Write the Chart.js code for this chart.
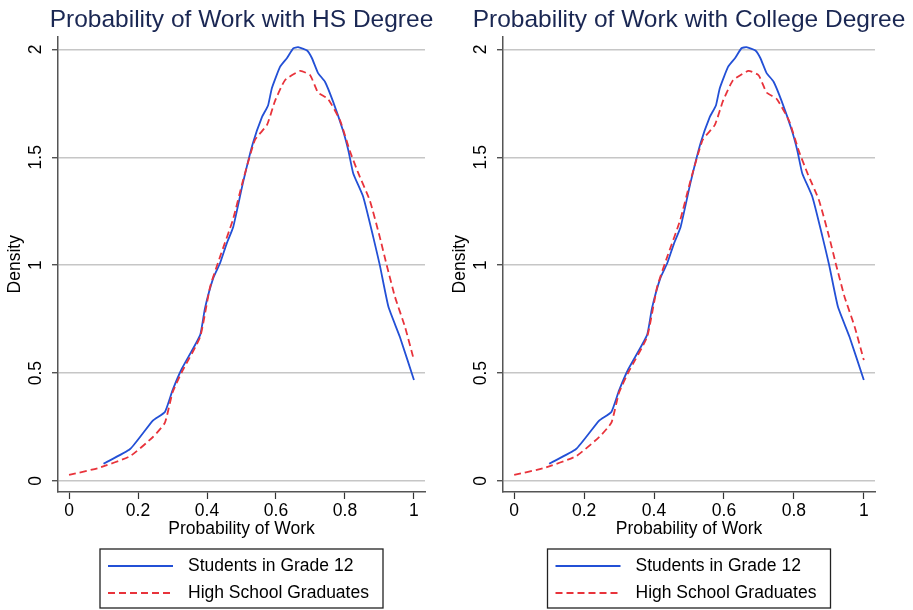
<!DOCTYPE html>
<html>
<head>
<meta charset="utf-8">
<script src="https://cdn.jsdelivr.net/npm/chart.js@4"></script>
<style>
  html, body { margin: 0; padding: 0; background: #fff; overflow: hidden; }
  body { width: 913px; height: 610px; position: relative; }
  canvas { position: absolute; top: 0; }
</style>
</head>
<body>
<canvas id="hsChart" width="483" height="610" style="left:0px"></canvas>
<canvas id="collegeChart" width="488" height="610" style="left:445px"></canvas>
<script>
var titles = ["Probability of Work with HS Degree", "Probability of Work with College Degree"]
var seriesNames = ["Students in Grade 12", "High School Graduates"]
var xTicks = [0, 0.2, 0.4, 0.6, 0.8, 1]
var yTicks = [0, 0.5, 1, 1.5, 2]

// Students in Grade 12 (solid blue)
var gradeX = [0.10, 0.177, 0.243, 0.278, 0.30, 0.327, 0.38, 0.394, 0.418, 0.438, 0.457, 0.476, 0.504, 0.533, 0.559, 0.577, 0.588, 0.612, 0.632, 0.65, 0.664, 0.69, 0.704, 0.722, 0.742, 0.765, 0.794, 0.81, 0.824, 0.853, 0.882, 0.901, 0.926, 0.959, 1.0]
var gradeY = [0.08, 0.148, 0.28, 0.32, 0.42, 0.52, 0.676, 0.80, 0.94, 1.01, 1.10, 1.177, 1.38, 1.565, 1.685, 1.74, 1.82, 1.92, 1.96, 2.005, 2.01, 1.995, 1.96, 1.89, 1.85, 1.76, 1.625, 1.53, 1.425, 1.316, 1.13, 1.0, 0.807, 0.668, 0.468]

// High School Graduates (dashed red)
var gradsX = [0, 0.085, 0.177, 0.244, 0.278, 0.30, 0.327, 0.38, 0.409, 0.438, 0.475, 0.504, 0.539, 0.574, 0.597, 0.626, 0.67, 0.699, 0.722, 0.751, 0.786, 0.814, 0.839, 0.872, 0.901, 0.921, 0.945, 0.974, 1.0]
var gradsY = [0.028, 0.06, 0.115, 0.205, 0.27, 0.41, 0.505, 0.667, 0.90, 1.04, 1.21, 1.39, 1.58, 1.65, 1.76, 1.857, 1.90, 1.88, 1.80, 1.77, 1.67, 1.53, 1.425, 1.30, 1.13, 1.0, 0.853, 0.714, 0.56]

var fontFamily = '"Liberation Sans", Arial, Helvetica, sans-serif'

function toPoints(xs, ys) {
    return xs.map(function (x, i) { return {x: x, y: ys[i]} })
}

// rotated y tick labels + boxed legend under the plot (stata look)
var stataExtras = {
    id: 'stataExtras',
    afterDraw: function (chart) {
        var ctx = chart.ctx, area = chart.chartArea, y = chart.scales.y
        ctx.save()
        ctx.font = '17.5px ' + fontFamily
        ctx.fillStyle = '#000'
        ctx.textAlign = 'center'
        ctx.textBaseline = 'middle'
        y.ticks.forEach(function (t) {
            ctx.save()
            ctx.translate(area.left - 22, y.getPixelForValue(t.value))
            ctx.rotate(-Math.PI / 2)
            ctx.fillText(String(t.value), 0, 0)
            ctx.restore()
        })

        var cx = (area.left + area.right) / 2
        var bw = 283, bh = 59
        var bx = cx - bw / 2, by = area.bottom + 57
        ctx.strokeStyle = '#222'
        ctx.lineWidth = 1.3
        ctx.strokeRect(bx, by, bw, bh)
        chart.data.datasets.forEach(function (ds, i) {
            var ly = by + 17 + i * 27
            ctx.strokeStyle = ds.borderColor
            ctx.lineWidth = ds.borderWidth
            ctx.setLineDash(ds.borderDash || [])
            ctx.beginPath()
            ctx.moveTo(bx + 8, ly)
            ctx.lineTo(bx + 73, ly)
            ctx.stroke()
            ctx.setLineDash([])
            ctx.textAlign = 'left'
            ctx.fillText(ds.label, bx + 88, ly)
        })
        ctx.restore()
    }
}

function makeChart(id, title) {
    return new Chart(document.getElementById(id), {
        type: 'line',
        data: {
            datasets: [
                {
                    label: seriesNames[0],
                    data: toPoints(gradeX, gradeY),
                    borderColor: "#2350d6",
                    borderWidth: 1.8,
                    pointRadius: 0,
                    tension: 0.15,
                    order: 1
                },
                {
                    label: seriesNames[1],
                    data: toPoints(gradsX, gradsY),
                    borderColor: "#e8333b",
                    borderWidth: 1.8,
                    borderDash: [7, 4],
                    pointRadius: 0,
                    tension: 0.15,
                    order: 0
                }
            ]
        },
        options: {
            responsive: false,
            animation: false,
            layout: {padding: {left: 0, right: 0, top: 0, bottom: 68}},
            plugins: {
                legend: {display: false},
                tooltip: {enabled: false},
                title: {
                    display: true,
                    text: title,
                    color: '#1a2753',
                    font: {family: fontFamily, size: 24.5, weight: 'normal'},
                    padding: {top: 5.5, bottom: 1.5}
                }
            },
            scales: {
                x: {
                    type: 'linear',
                    min: -0.032,
                    max: 1.032,
                    afterBuildTicks: function (s) { s.ticks = xTicks.map(function (v) { return {value: v} }) },
                    afterFit: function (s) { s.height = 50 },
                    ticks: {
                        color: '#000',
                        padding: 2,
                        maxRotation: 0,
                        font: {family: fontFamily, size: 17.5},
                        callback: function (v) { return String(v) }
                    },
                    grid: {drawOnChartArea: false, drawTicks: true, tickLength: 7, tickColor: '#333', tickWidth: 1.2},
                    border: {color: '#555', width: 1.5},
                    title: {
                        display: true,
                        text: 'Probability of Work',
                        color: '#000',
                        font: {family: fontFamily, size: 17.5},
                        padding: {top: 0, bottom: 2}
                    }
                },
                y: {
                    type: 'linear',
                    min: -0.051,
                    max: 2.06,
                    afterBuildTicks: function (s) { s.ticks = yTicks.map(function (v) { return {value: v} }) },
                    afterFit: function (s) { s.width = 58 },
                    ticks: {display: false},
                    grid: {color: '#c6c6c6', lineWidth: 1.5, tickLength: 6, tickColor: '#333', tickWidth: 1.2},
                    border: {color: '#555', width: 1.5},
                    title: {
                        display: true,
                        text: 'Density',
                        color: '#000',
                        font: {family: fontFamily, size: 17.5},
                        padding: {top: 5, bottom: 0}
                    }
                },
                // empty right margin so the full-width title centres over the plot
                margin: {
                    type: 'linear',
                    position: 'right',
                    afterFit: function (s) { s.width = 58 },
                    ticks: {display: false},
                    grid: {display: false},
                    border: {display: false}
                }
            }
        },
        plugins: [stataExtras]
    })
}

var hsChart = makeChart("hsChart", titles[0])
var collegeChart = makeChart("collegeChart", titles[1])
</script>
</body>
</html>
